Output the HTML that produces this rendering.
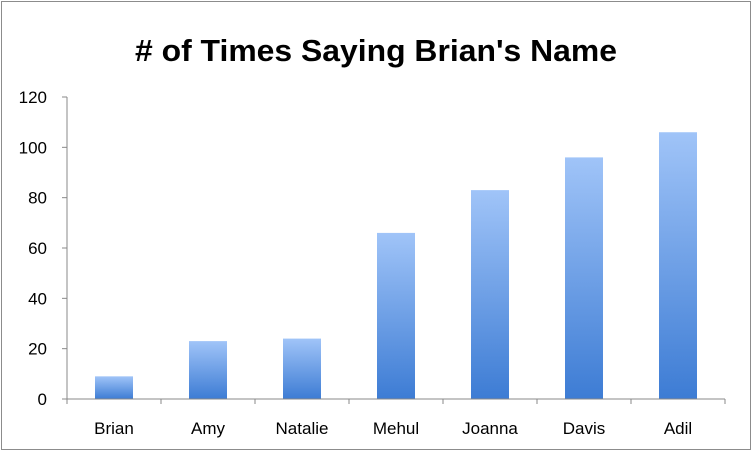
<!DOCTYPE html>
<html><head><meta charset="utf-8"><style>
body{margin:0;background:#fff;}
svg{display:block;font-family:"Liberation Sans",Arial,sans-serif;}
</style></head><body>
<svg width="753" height="453">
<defs><linearGradient id="g" x1="0" y1="0" x2="0" y2="1"><stop offset="0" stop-color="#a0c4f8"/><stop offset="1" stop-color="#3d7cd4"/></linearGradient></defs>
<rect x="1.5" y="1.5" width="749" height="448" fill="#fff" stroke="#8c8c8c"/>
<text x="376" y="61" text-anchor="middle" font-size="31" font-weight="bold" textLength="482" lengthAdjust="spacingAndGlyphs"># of Times Saying Brian's Name</text>
<g id="plot"></g>
</svg>
<script>
const categories=["Brian","Amy","Natalie","Mehul","Joanna","Davis","Adil"];
const values=[9,23,24,66,83,96,106];
const yTicks=[0,20,40,60,80,100,120];
const ns="http://www.w3.org/2000/svg";
const g=document.getElementById('plot');
const x0=67,x1=725,y0=399,y1=97,yMax=120;
const bw=(x1-x0)/categories.length;
const y=v=>y0-(v/yMax)*(y0-y1);
function mk(t,a,p){const e=document.createElementNS(ns,t);for(const k in a)e.setAttribute(k,a[k]);(p||g).appendChild(e);return e;}
yTicks.forEach(v=>{
 const l=mk('line',{x1:62,x2:x0,y1:y(v),y2:y(v),stroke:'#888'});
 
 
 const t=mk('text',{x:47,y:y(v)+6,'text-anchor':'end','font-size':17});
 t.textContent=v;
 
 
});
categories.forEach((c,i)=>{
 const cx=x0+bw*(i+0.5);
 const r=mk('rect',{x:cx-19,y:y(values[i]),width:38,height:y0-y(values[i]),fill:'url(#g)'});
 
 
 const t=mk('text',{x:cx,y:434,'text-anchor':'middle','font-size':17});
 t.textContent=c;
 
 
 const tk=mk('line',{x1:x0+bw*(i+1),x2:x0+bw*(i+1),y1:y0,y2:y0+5,stroke:'#888'});
 
 
});
const ya=mk('line',{x1:x0,x2:x0,y1:y1,y2:y0+5,stroke:'#888'});


const xa=mk('line',{x1:62,x2:x1,y1:y0,y2:y0,stroke:'#888'});


</script>
</body></html>
